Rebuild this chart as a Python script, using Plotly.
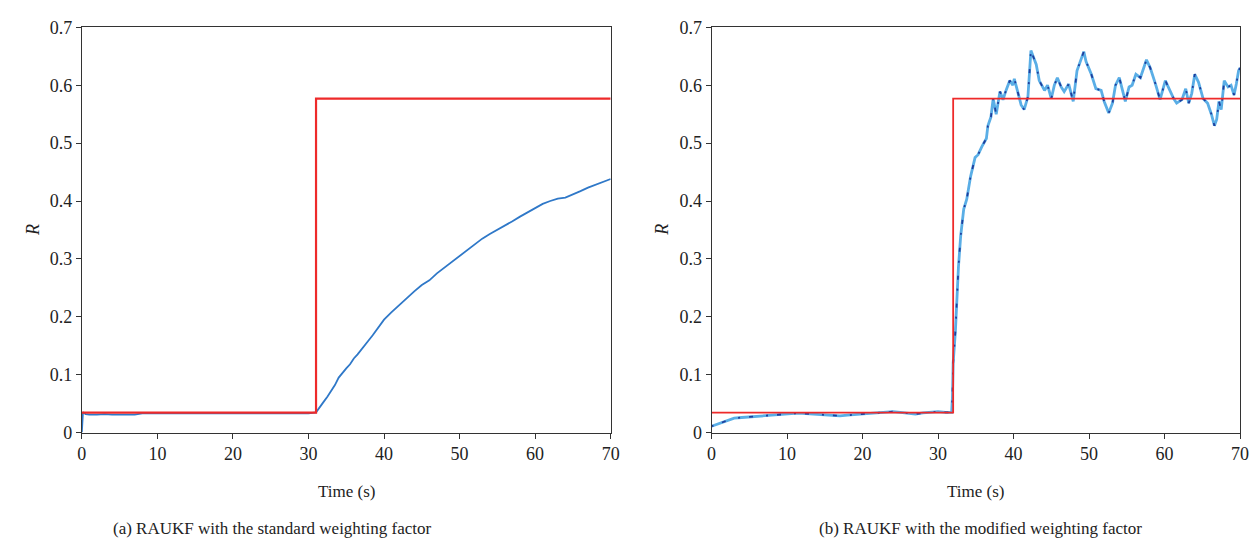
import plotly.graph_objects as go

# ---------------- data ----------------
# (a) standard weighting factor
t_a = [0, 0.15, 0.5, 1, 2, 3, 4, 5, 6, 7, 8, 10, 15, 20, 25, 30, 31.0,
       31.5, 32, 32.5, 33, 33.5, 34, 34.5, 35, 35.5, 36, 36.5, 37, 37.5, 38,
       38.5, 39, 39.5, 40, 41, 42, 43, 44, 45, 46, 47, 48, 49, 50, 51, 52,
       53, 54, 55, 56, 57, 58, 59, 60, 61, 62, 63, 64, 65, 66, 67, 68, 69, 70]
r_a = [0, 0.035, 0.032, 0.031, 0.031, 0.032, 0.031, 0.031, 0.030, 0.031,
       0.033, 0.033, 0.033, 0.033, 0.033, 0.033, 0.035,
       0.045, 0.053, 0.062, 0.072, 0.082, 0.095, 0.104, 0.111, 0.118, 0.128,
       0.135, 0.144, 0.151, 0.160, 0.168, 0.177, 0.187, 0.195, 0.208, 0.220,
       0.233, 0.244, 0.255, 0.263, 0.275, 0.285, 0.296, 0.305, 0.316, 0.326,
       0.335, 0.343, 0.350, 0.357, 0.365, 0.373, 0.380, 0.388, 0.395, 0.400,
       0.404, 0.406, 0.411, 0.417, 0.423, 0.428, 0.433, 0.438]
ref_t_a = [0, 31, 31, 70]
ref_r_a = [0.0345, 0.0345, 0.577, 0.577]

# (b) modified weighting factor
t_b = [0, 1, 2, 3, 4, 5, 6, 7, 8, 9, 10, 11, 12, 13, 14, 15, 16, 17, 18, 19,
       20, 21, 22, 23, 24, 25, 26, 27, 28, 29, 30, 31, 31.8, 31.9, 32.0, 32.3,
       32.7, 33.0, 33.4, 33.8, 34.3, 34.9, 35.3, 35.8, 36.4, 36.6, 37.0, 37.3,
       37.7, 38.2, 38.6, 39.0, 39.5, 39.9, 40.1, 40.5, 41.0, 41.4, 41.9, 42.3,
       43.0, 43.4, 44.1, 44.5, 45.0, 45.4, 45.8, 46.3, 46.7, 47.3, 47.9, 48.4,
       49.3, 49.6, 50.3, 50.9, 51.6, 52.0, 52.6, 53.1, 53.5, 54.0, 54.4, 54.8,
       55.3, 55.7, 56.2, 56.8, 57.6, 58.1, 58.8, 59.4, 60.1, 60.6, 61.2, 61.6,
       62.3, 62.8, 63.2, 63.6, 64.0, 64.5, 65.1, 65.7, 66.2, 66.6, 66.9, 67.2,
       67.5, 67.9, 68.4, 68.8, 69.2, 69.5, 69.8, 70]
r_b = [0.011, 0.016, 0.021, 0.025, 0.026, 0.027, 0.028, 0.030, 0.031, 0.031,
       0.032, 0.033, 0.033, 0.032, 0.032, 0.031, 0.030, 0.029, 0.030, 0.031,
       0.032, 0.032, 0.033, 0.034, 0.036, 0.035, 0.033, 0.032, 0.034, 0.035,
       0.036, 0.035, 0.035, 0.060, 0.120, 0.176,
       0.286, 0.340, 0.386, 0.403, 0.442, 0.475, 0.480, 0.494, 0.508, 0.530,
       0.545, 0.577, 0.550, 0.589, 0.575, 0.591, 0.608, 0.600, 0.611, 0.591,
       0.566, 0.558, 0.580, 0.660, 0.636, 0.608, 0.591, 0.600, 0.577, 0.600,
       0.613, 0.597, 0.589, 0.602, 0.572, 0.625, 0.658, 0.641, 0.619, 0.594,
       0.591, 0.572, 0.552, 0.569, 0.600, 0.613, 0.594, 0.572, 0.597, 0.600,
       0.619, 0.613, 0.644, 0.630, 0.602, 0.575, 0.608, 0.594, 0.577, 0.569,
       0.575, 0.594, 0.569, 0.586, 0.619, 0.605, 0.577, 0.569, 0.550, 0.530,
       0.541, 0.572, 0.558, 0.608, 0.597, 0.600, 0.583, 0.602, 0.625, 0.630]
ref_t_b = [0, 32, 32, 70]
ref_r_b = [0.0345, 0.0345, 0.577, 0.577]

x_ticks = [0, 10, 20, 30, 40, 50, 60, 70]
y_ticks = [0, 0.1, 0.2, 0.3, 0.4, 0.5, 0.6, 0.7]
captions = ["(a) RAUKF with the standard weighting factor",
            "(b) RAUKF with the modified weighting factor"]

# ---------------- figure ----------------
W, H = 1257, 544
FONT = "Liberation Serif"
RED = "#ee2a2a"
LIGHT = "#5aaee6"
DARK = "#1f3d9c"

fig = go.Figure()

fig.add_trace(go.Scatter(x=t_a, y=r_a, mode="lines", xaxis="x", yaxis="y",
                         line=dict(color="#2f78c8", width=1.8), showlegend=False))
fig.add_trace(go.Scatter(x=ref_t_a, y=ref_r_a, mode="lines", xaxis="x", yaxis="y",
                         line=dict(color=RED, width=2.2), showlegend=False))

fig.add_trace(go.Scatter(x=t_b, y=r_b, mode="lines", xaxis="x2", yaxis="y2",
                         line=dict(color=LIGHT, width=2.8), showlegend=False))
fig.add_trace(go.Scatter(x=t_b, y=r_b, mode="lines", xaxis="x2", yaxis="y2",
                         line=dict(color=DARK, width=1.8, dash="2px,9px,4px,13px"),
                         showlegend=False))
fig.add_trace(go.Scatter(x=ref_t_b, y=ref_r_b, mode="lines", xaxis="x2", yaxis="y2",
                         line=dict(color=RED, width=1.8), showlegend=False))

# pixel-based domains
xa0, xa1 = 77.7, 612.5
xb0, xb1 = 714.5, 1249.0
ytop, ybot = 18.0, 438.7
ydom = [1 - ybot / H, 1 - ytop / H]

axis_common = dict(range=[0, 70], showline=True, mirror=True, linecolor="#333",
                   linewidth=1, ticks="outside", ticklen=5, tickcolor="#333",
                   showgrid=False, zeroline=False, tickvals=x_ticks,
                   tickfont=dict(family=FONT, size=18, color="#222"))
yaxis_common = dict(range=[0, 0.7], showline=True, mirror=True, linecolor="#333",
                    linewidth=1, ticks="outside", ticklen=5, tickcolor="#333",
                    showgrid=False, zeroline=False, tickvals=y_ticks,
                    tickfont=dict(family=FONT, size=18, color="#222"),
                    domain=ydom)

fig.update_layout(
    width=W, height=H,
    margin=dict(l=0, r=0, t=0, b=0),
    paper_bgcolor="white", plot_bgcolor="white",
    xaxis=dict(domain=[xa0 / W, xa1 / W], anchor="y", **axis_common),
    yaxis=dict(anchor="x", **yaxis_common),
    xaxis2=dict(domain=[xb0 / W, xb1 / W], anchor="y2", **axis_common),
    yaxis2=dict(anchor="x2", **yaxis_common),
)

annos = []
for (x0, x1, cap_x, cap) in [(xa0, xa1, 271, captions[0]), (xb0, xb1, 986, captions[1])]:
    annos.append(dict(text="Time (s)", x=(x0 + x1) / 2 / W, y=1 - 500 / H,
                      xref="paper", yref="paper", showarrow=False,
                      font=dict(family=FONT, size=17, color="#222"),
                      xanchor="center", yanchor="middle"))
    annos.append(dict(text="<i>R</i>", x=(x0 - 50) / W, y=1 - 228 / H,
                      xref="paper", yref="paper", showarrow=False, textangle=-90,
                      font=dict(family=FONT, size=18, color="#222"),
                      xanchor="center", yanchor="middle"))
    annos.append(dict(text=cap, x=cap_x / W, y=1 - 538 / H,
                      xref="paper", yref="paper", showarrow=False,
                      font=dict(family=FONT, size=17, color="#222"),
                      xanchor="center", yanchor="middle"))
fig.update_layout(annotations=annos)

fig.write_html("out.html")
